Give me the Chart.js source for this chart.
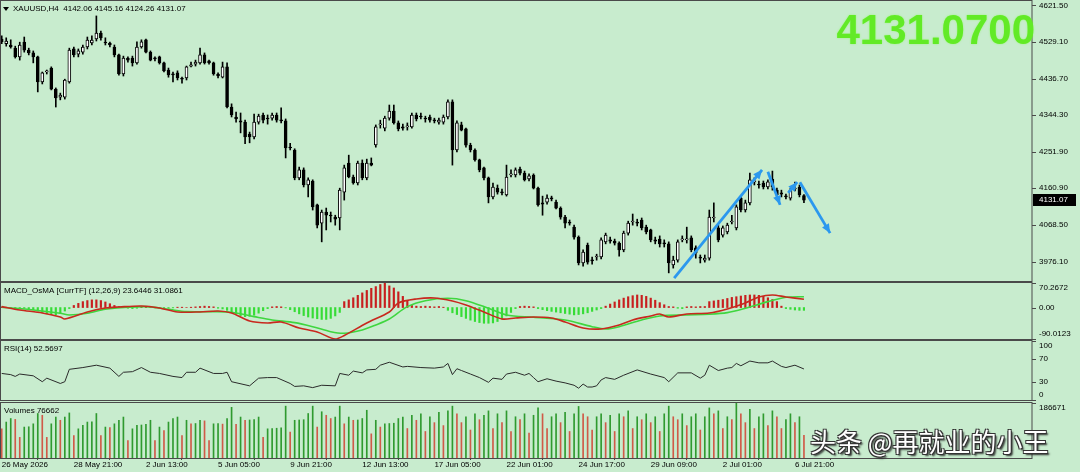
<!DOCTYPE html>
<html><head><meta charset="utf-8">
<script src="https://cdn.jsdelivr.net/npm/chart.js@4.4.1/dist/chart.umd.min.js"></script>
<style>
html,body{margin:0;padding:0;background:#c8ecce;width:1080px;height:472px;overflow:hidden;position:relative;}
canvas{position:absolute;left:0;}
#bigPrice{position:absolute;right:45px;top:9px;font:bold 42px "Liberation Sans",Arial,sans-serif;line-height:42px;color:#62ea26;letter-spacing:0px;text-shadow:0 0 2px rgba(120,255,60,0.6);}
#wm{position:absolute;left:810px;top:424px;font:26px "Noto Sans CJK SC",sans-serif;line-height:34px;color:#fff;text-shadow:1px 1px 0 #333,-1px -1px 0 #333,1px -1px 0 #333,-1px 1px 0 #333,2px 2px 2px #222;white-space:nowrap;}
</style></head><body>
<canvas id="cMain" width="1080" height="282" style="top:0px"></canvas>
<canvas id="cMacd" width="1080" height="58" style="top:282px"></canvas>
<canvas id="cRsi" width="1080" height="61" style="top:340px"></canvas>
<canvas id="cVol" width="1080" height="70" style="top:402px"></canvas>
<div id="bigPrice">4131.0700</div>
<div id="wm">头条 @再就业的小王</div>
<script>
// ---------------- DATA ----------------
const symbolTitle = 'XAUUSD,H4  4142.06 4145.16 4124.26 4131.07';
const macdTitle = 'MACD_OsMA [CurrTF] (12,26,9) 23.6446 31.0861';
const rsiTitle = 'RSI(14) 52.5697';
const volTitle = 'Volumes 76662';
const lastPrice = 4131.07;

const opens = [4536,4524,4521,4513,4491,4528,4508,4501,4491,4428,
4453,4463,4410,4390,4390,4428,4511,4498,4503,4516,
4526,4536,4551,4528,4526,4516,4496,4448,4488,4488,
4476,4516,4534,4503,4488,4491,4476,4458,4448,4451,
4438,4438,4468,4473,4476,4496,4481,4476,4448,4440,
4466,4365,4340,4330,4327,4297,4290,4327,4345,4337,
4337,4345,4332,4330,4264,4257,4187,4207,4169,4179,
4119,4073,4101,4093,4088,4086,4151,4224,4189,4174,
4224,4187,4224,4270,4320,4312,4337,4355,4325,4315,
4315,4315,4345,4342,4337,4340,4332,4327,4327,4340,
4378,4257,4320,4310,4269,4257,4232,4212,4187,4139,
4161,4151,4144,4194,4194,4209,4199,4184,4194,4161,
4124,4126,4136,4126,4111,4088,4076,4063,4038,3973,
4018,3980,3988,3988,4026,4031,4028,4023,4006,4048,
4076,4076,4081,4063,4056,4031,4033,4023,4021,3968,
3980,4031,4031,4036,4011,3988,3980,3985,4086,4061,
4043,4051,4076,4061,4136,4106,4124,4177,4171,4174,
4164,4184,4156,4149,4141,4136,4159,4164,4142.06];
const highs = [4544,4539,4534,4518,4528,4541,4513,4506,4493,4453,
4458,4466,4413,4400,4435,4513,4516,4511,4521,4541,
4544,4594,4556,4539,4528,4521,4498,4493,4491,4493,
4529,4534,4536,4506,4491,4493,4478,4463,4453,4456,
4440,4468,4478,4483,4513,4501,4483,4478,4451,4478,
4476,4373,4352,4350,4332,4302,4347,4347,4350,4345,
4350,4350,4363,4335,4274,4260,4214,4212,4187,4182,
4121,4106,4111,4101,4093,4161,4219,4244,4194,4229,
4232,4234,4237,4320,4332,4342,4370,4370,4330,4322,
4325,4350,4350,4350,4342,4345,4337,4337,4345,4383,
4383,4330,4327,4312,4274,4260,4234,4214,4189,4174,
4169,4159,4219,4207,4212,4214,4204,4197,4197,4164,
4141,4144,4141,4131,4114,4093,4081,4068,4041,4006,
4023,3988,3995,4036,4048,4038,4033,4026,4053,4078,
4096,4083,4086,4068,4058,4038,4041,4031,4026,3990,
4031,4041,4063,4041,4016,3993,3993,4106,4124,4068,
4066,4073,4093,4119,4141,4131,4199,4187,4179,4179,
4182,4204,4161,4156,4146,4161,4176,4169,4145.16];
const lows = [4524,4518,4513,4488,4483,4503,4496,4476,4403,4423,
4448,4408,4365,4383,4385,4425,4491,4491,4498,4511,
4521,4531,4533,4521,4516,4491,4445,4443,4478,4468,
4473,4513,4501,4481,4481,4473,4453,4440,4428,4433,
4425,4433,4466,4468,4473,4473,4473,4445,4438,4438,
4363,4340,4327,4300,4273,4275,4285,4322,4325,4322,
4332,4327,4325,4237,4257,4182,4182,4164,4139,4106,
4061,4026,4056,4076,4068,4056,4131,4187,4171,4169,
4182,4182,4217,4264,4312,4305,4332,4322,4305,4307,
4307,4312,4330,4335,4327,4327,4325,4322,4322,4335,
4219,4252,4305,4264,4252,4229,4202,4182,4124,4134,
4146,4144,4141,4189,4189,4194,4179,4179,4159,4116,
4093,4121,4129,4109,4083,4061,4068,4033,3968,3965,
3970,3970,3980,3983,4021,4023,4018,3990,4001,4043,
4068,4066,4056,4046,4026,4021,4013,4013,3948,3960,
3975,4026,4023,4001,3985,3973,3975,3980,4076,4026,
4038,4046,4071,4056,4101,4101,4119,4169,4161,4159,
4159,4156,4139,4139,4134,4131,4154,4139,4124.26];
const closes = [4529,4531,4516,4491,4521,4508,4501,4491,4428,4451,
4456,4410,4388,4395,4433,4508,4496,4506,4516,4533,
4533,4551,4539,4526,4521,4496,4448,4488,4483,4476,
4516,4529,4503,4483,4486,4476,4456,4446,4446,4438,
4435,4466,4471,4478,4496,4476,4476,4448,4443,4466,
4365,4345,4335,4327,4290,4290,4327,4342,4332,4335,
4345,4332,4330,4262,4262,4187,4207,4169,4182,4114,
4068,4101,4093,4091,4083,4156,4212,4189,4174,4224,
4187,4224,4219,4315,4322,4337,4355,4325,4310,4312,
4317,4345,4335,4340,4335,4332,4330,4332,4340,4378,
4257,4325,4307,4269,4257,4232,4207,4187,4139,4164,
4151,4149,4189,4197,4207,4199,4182,4192,4161,4119,
4121,4136,4134,4111,4088,4073,4073,4038,3973,4000,
3975,3978,3990,4031,4043,4028,4023,4006,4048,4073,
4078,4073,4061,4051,4031,4028,4021,4021,3973,3980,
4026,4033,4033,4006,3998,3985,3985,4088,4088,4031,
4061,4068,4078,4114,4106,4124,4182,4179,4169,4164,
4177,4164,4144,4146,4139,4156,4161,4144,4131.07];

const volumes = [99000,122000,134000,131000,70000,105000,106000,116000,151000,145000,
70000,116000,139000,128000,139000,153000,76000,99000,111000,122000,
123000,151000,76000,105000,103000,116000,128000,139000,59000,99000,
111000,112000,114000,128000,59000,105000,93000,122000,134000,139000,
76000,128000,116000,117000,128000,126000,59000,116000,117000,115000,
134000,172000,114000,139000,128000,129000,130000,139000,70000,99000,
100000,101000,102000,176000,88000,128000,129000,130000,151000,176000,
105000,157000,145000,134000,139000,176000,116000,139000,128000,129000,
134000,162000,82000,128000,105000,116000,117000,118000,134000,139000,
100000,145000,128000,150000,90000,140000,120000,155000,110000,160000,
176000,150000,120000,140000,95000,150000,130000,145000,160000,100000,
150000,120000,160000,90000,140000,130000,150000,85000,145000,170000,
150000,100000,140000,150000,120000,155000,90000,150000,175000,150000,
140000,95000,140000,150000,120000,145000,90000,150000,140000,160000,
100000,140000,130000,150000,120000,140000,90000,150000,176000,140000,
130000,150000,110000,140000,150000,95000,140000,170000,150000,160000,
100000,140000,130000,186671,150000,120000,165000,100000,140000,150000,
110000,160000,140000,100000,130000,150000,120000,140000,76662];

const macdHist = [2,1,-1,-2,-3,-2,-4,
-6,-10,-14,-18,-20,-21,-17,-10,-3,
6,12,17,20,22,22,20,16,11,6,
3,2,-2,-3,-2,1,
2,1,-1,-2,-3,-2,-1,1,1,0,1,2,
3,4,3,2,
-2,-4,-8,-14,-19,-23,-26,-25,-22,-16,-9,-3,
2,3,2,-1,
-6,-12,-18,-23,-27,-30,-32,-34,-34,-31,-24,-14,
17,22,28,35,42,49,55,60,66,70,62,56,45,32,20,
6,4,3,4,3,2,3,1,
-8,-15,-20,-26,-31,-36,-40,-43,-45,-45,-44,-40,-33,-24,-14,
-3,3,4,3,2,
-3,-6,-9,-11,-13,-15,-17,-19,-21,-20,-18,-15,-11,-7,-3,
4,10,16,22,27,31,34,36,35,32,27,21,14,8,
3,2,-2,-3,2,3,2,3,3,
17,19,21,23,26,29,31,33,35,36,36,35,32,28,23,17,
4,-3,-5,-7,-8,-8];

const macdBars = [0,4,9,13,14,19,23,26,31,35,39,44,48,51,55,59,62,66,70,74,76,81,86,88,92,96,100,103,107,111,114,118,122,125,129,133,137,140,144,146,148,152,157,161,165,168,171,174,178];
const macdMain = [2.6,-6.9,-15.5,-26.9,-32.6,-12.6,-1.1,1.7,4.6,-1.1,-12.6,-12.6,-9.7,-15.5,-38.4,-44.1,-41.2,-58.4,-70.1,-90.0,-80,-44.1,-12.6,13.2,24.6,27.5,18.9,7.4,-12.6,-32.6,-29.8,-26.9,-29.8,-41.2,-58.4,-61.2,-49.8,-35.5,-24.0,-18.3,-26.9,-18.3,-15.5,-4.0,13.2,30.3,36.1,30.3,23.64];
const signalBars = [0,7,13,15,19,23,28,32,37,41,47,51,56,60,65,69,73,76,80,83,86,90,94,99,103,108,112,118,125,131,134,137,142,146,152,157,161,165,170,174,178];
const signalVals = [0.9,-6.9,-16.3,-21.2,-16.3,-4.9,0.9,2.6,-4.9,-11.7,-11.7,-13.5,-26.0,-35.5,-43.2,-54.7,-69.0,-73.6,-64.1,-49.8,-32.6,2.6,19.7,26.6,19.7,-2.0,-21.2,-27.8,-35.5,-54.7,-61.2,-54.7,-35.5,-24.0,-21.2,-19.2,-14.6,-2.0,16.9,29.5,31.09];

const rsiBars = [0,2,3,4,7,9,10,13,14,15,18,21,24,26,27,29,31,33,35,38,40,41,43,44,47,49,50,51,55,57,59,61,64,65,67,69,71,74,75,77,78,80,81,83,84,86,89,
90,93,96,98,99,100,101,102,104,106,108,109,111,112,114,116,117,118,119,121,123,125,127,128,129,130,131,132,
133,134,136,138,141,144,147,148,150,153,155,156,157,159,161,162,163,164,166,168,170,171,173,174,176,178];
const rsiVals = [45,43,40,44,41,31,37,28,31,52,55,59,54,40,47,48,55,47,45,40,38,47,47,54,45,45,47,31,24,37,38,38,28,23,24,21,25,24,45,42,49,46,51,52,59,64,56,
57,55,54,56,62,43,53,50,44,38,30,37,35,44,47,42,45,38,31,36,32,29,25,20,27,22,22,24,
34,38,35,42,51,44,38,31,46,46,37,42,59,50,54,55,62,58,66,63,63,66,57,55,59,52.57];

const dateLabels = ['26 May 2026','28 May 21:00','2 Jun 13:00','5 Jun 05:00','9 Jun 21:00','12 Jun 13:00','17 Jun 05:00','22 Jun 01:00','24 Jun 17:00','29 Jun 09:00','2 Jul 01:00','6 Jul 21:00'];
const barsPerLabel = 16;
const priceTicks = [4621.50,4529.10,4436.70,4344.30,4251.90,4160.90,4068.50,3976.10];
const macdTicks = [70.2672,0,-90.0123];
const macdTickText = ['70.2672','0.00','-90.0123'];
const rsiTicks = [100,70,30,0];
const volTicks = [186671];

// hand-drawn arrows: [barFrom, priceFrom, barTo, priceTo]
const arrowsFrom = [[149.2,3935,168.7,4207],[170.0,4202,172.7,4119],[174.5,4149,176.5,4176],[177.1,4176,183.8,4048]];

// ---------------- CONFIG ----------------
const X_MIN = -0.16, X_MAX = 228.6;
const FONT = '"Liberation Sans", Arial, sans-serif';
const LINE = '#4a4a4a';

function xAxis(){ return {type:'linear', min:X_MIN, max:X_MAX, display:false, offset:false, grid:{display:false}}; }
function baseOpts(ymin, ymax, extraX){
  return {responsive:false, animation:false, events:[], maintainAspectRatio:false,
    layout:{padding:{left:1,right:48,top:1,bottom:1}},
    plugins:{legend:{display:false}, tooltip:{enabled:false}},
    scales:{x: Object.assign(xAxis(), extraX||{}), y:{display:false, min:ymin, max:ymax}}};
}
function panePlugin(o){
  return {id:'pane_'+o.name, afterDraw(chart){
    const ctx = chart.ctx, a = chart.chartArea, y = chart.scales.y;
    ctx.save();
    ctx.strokeStyle = LINE; ctx.lineWidth = 1;
    ctx.strokeRect(0.5, a.top-0.5, a.right-0.5, a.bottom-a.top+1);
    ctx.font = '8px ' + FONT; ctx.fillStyle = '#000'; ctx.textBaseline = 'middle'; ctx.textAlign = 'left';
    o.ticks.forEach((v,k)=>{
      const py = y.getPixelForValue(v);
      const ly = Math.round(Math.min(Math.max(py, a.top+5), a.bottom-5));
      ctx.beginPath(); ctx.moveTo(a.right, Math.round(py)+0.5); ctx.lineTo(a.right+4, Math.round(py)+0.5); ctx.stroke();
      ctx.fillText(o.text(v,k), a.right+7, ly);
    });
    if (o.title) { ctx.fillText(o.title, o.titleX || 4, a.top + 8); }
    if (o.extra) o.extra(chart);
    ctx.restore();
  }};
}
const idx = closes.map((_,i)=>i);

// ---------------- MAIN PRICE PANE ----------------
new Chart(document.getElementById('cMain'), {
  type:'bar',
  data:{datasets:[
    {data: idx.map(i=>({x:i, y:[lows[i], highs[i]]})), backgroundColor:'#000', barThickness:1, grouped:false, order:3},
    {data: idx.map(i=>({x:i, y:[opens[i], closes[i]]})),
     backgroundColor: c => (closes[c.dataIndex] >= opens[c.dataIndex] ? '#ffffff' : '#000000'),
     borderColor:'#000', borderWidth:1, borderSkipped:false, barThickness:3, minBarLength:1, grouped:false, order:2},
    ...arrowsFrom.map(a=>({type:'line', data:[{x:a[0],y:a[1]},{x:a[2],y:a[3]}], borderColor:'#2b98ee', borderWidth:2.8, pointRadius:0, order:1, clip:false}))
  ]},
  options: baseOpts(3927.6, 4631.56),
  plugins:[panePlugin({name:'main', ticks:priceTicks, text:v=>v.toFixed(2), title:symbolTitle, titleX:13,
    extra(chart){
      const ctx = chart.ctx, xs = chart.scales.x, ys = chart.scales.y, a = chart.chartArea;
      ctx.fillStyle = '#000'; ctx.beginPath(); ctx.moveTo(3, a.top+6); ctx.lineTo(9, a.top+6); ctx.lineTo(6, a.top+10); ctx.closePath(); ctx.fill();
      ctx.fillStyle = '#2b98ee';
      arrowsFrom.forEach(r=>{
        const x1 = xs.getPixelForValue(r[0]), y1 = ys.getPixelForValue(r[1]);
        const x2 = xs.getPixelForValue(r[2]), y2 = ys.getPixelForValue(r[3]);
        const ang = Math.atan2(y2-y1, x2-x1), L = 9, W = 4;
        ctx.beginPath(); ctx.moveTo(x2, y2);
        ctx.lineTo(x2 - L*Math.cos(ang) + W*Math.sin(ang), y2 - L*Math.sin(ang) - W*Math.cos(ang));
        ctx.lineTo(x2 - L*Math.cos(ang) - W*Math.sin(ang), y2 - L*Math.sin(ang) + W*Math.cos(ang));
        ctx.closePath(); ctx.fill();
      });
      const py = Math.round(ys.getPixelForValue(lastPrice));
      ctx.fillStyle = '#000'; ctx.fillRect(a.right+1, py-6, 43, 12);
      ctx.fillStyle = '#fff'; ctx.font = '8px ' + FONT; ctx.textBaseline='middle'; ctx.fillText(lastPrice.toFixed(2), a.right+7, py);
    }})]
});

// ---------------- MACD PANE ----------------
new Chart(document.getElementById('cMacd'), {
  type:'bar',
  data:{datasets:[
    {data: idx.map(i=>({x:i, y:macdHist[i]})), backgroundColor: c => (macdHist[c.dataIndex] >= 0 ? '#c81e1e' : '#36dc36'), barThickness:1.5, grouped:false, order:3},
    {type:'line', data: macdBars.map((b,k)=>({x:b, y:macdMain[k]})), borderColor:'#c8281e', borderWidth:1.6, pointRadius:0, tension:0.3, order:1},
    {type:'line', data: signalBars.map((b,k)=>({x:b, y:signalVals[k]})), borderColor:'#3fd63f', borderWidth:1.6, pointRadius:0, tension:0.3, order:2}
  ]},
  options: baseOpts(-90.0123, 70.2672),
  plugins:[panePlugin({name:'macd', ticks:macdTicks, text:(v,k)=>macdTickText[k], title:macdTitle})]
});

// ---------------- RSI PANE ----------------
new Chart(document.getElementById('cRsi'), {
  type:'line',
  data:{datasets:[
    {data: rsiBars.map((b,k)=>({x:b, y:rsiVals[k]})), borderColor:'#2a2a2a', borderWidth:1, pointRadius:0, tension:0}
  ]},
  options: baseOpts(0, 100),
  plugins:[panePlugin({name:'rsi', ticks:rsiTicks, text:v=>String(v), title:rsiTitle})]
});

// ---------------- VOLUME PANE + TIME AXIS ----------------
const volOpts = baseOpts(0, 186671, {
  display:true, position:'bottom',
  afterBuildTicks: s => { s.ticks = dateLabels.map((_,k)=>({value:k*barsPerLabel})); },
  afterFit: s => { s.height = 14; },
  ticks:{autoSkip:false, maxRotation:0, minRotation:0, align:'start', padding:0, color:'#000', font:{family:'Liberation Sans', size:8}, callback:(v,k)=>dateLabels[k]},
  grid:{display:true, drawOnChartArea:false, drawTicks:true, tickLength:2, color:LINE},
  border:{display:false}
});
volOpts.layout.padding.bottom = 0;
new Chart(document.getElementById('cVol'), {
  type:'bar',
  data:{datasets:[
    {data: idx.map(i=>({x:i, y:volumes[i]})), backgroundColor: c => (c.dataIndex > 0 && volumes[c.dataIndex] > volumes[c.dataIndex-1] ? '#2f9a2f' : '#d05a48'), barThickness:1, grouped:false}
  ]},
  options: volOpts,
  plugins:[panePlugin({name:'vol', ticks:volTicks, text:v=>String(v), title:volTitle})]
});
</script>
</body></html>
